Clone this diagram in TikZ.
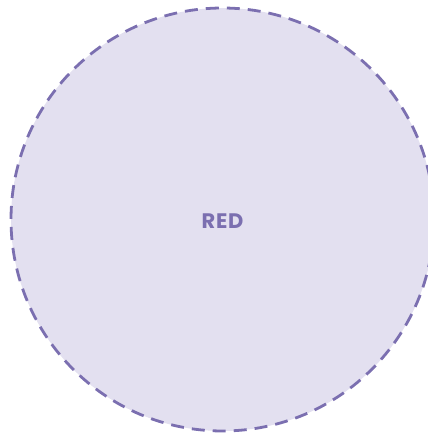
\documentclass[tikz,border=0pt]{standalone}
\usepackage{fontspec}
\setmainfont{Poppins}[LetterSpace=4]
\definecolor{rfill}{HTML}{E3E0F0}
\definecolor{rline}{HTML}{7B6FB0}
\begin{document}
\begin{tikzpicture}[x=1pt,y=1pt,
  bubble/.style={circle, draw=rline, fill=rfill, line width=2.8pt,
    dash pattern=on 13pt off 8pt, minimum size=423pt, inner sep=0pt},
  tag/.style={text=rline, font=\fontsize{21}{24}\selectfont\bfseries, inner sep=0pt}]
\useasboundingbox (0,0) rectangle (428,437);
\clip (0,0) rectangle (428,437);
\node[bubble] (red) at (222.5,217.5) {};
\node[tag] (redtext) at ([yshift=-2pt]red.center) {RED};
\end{tikzpicture}
\end{document}
